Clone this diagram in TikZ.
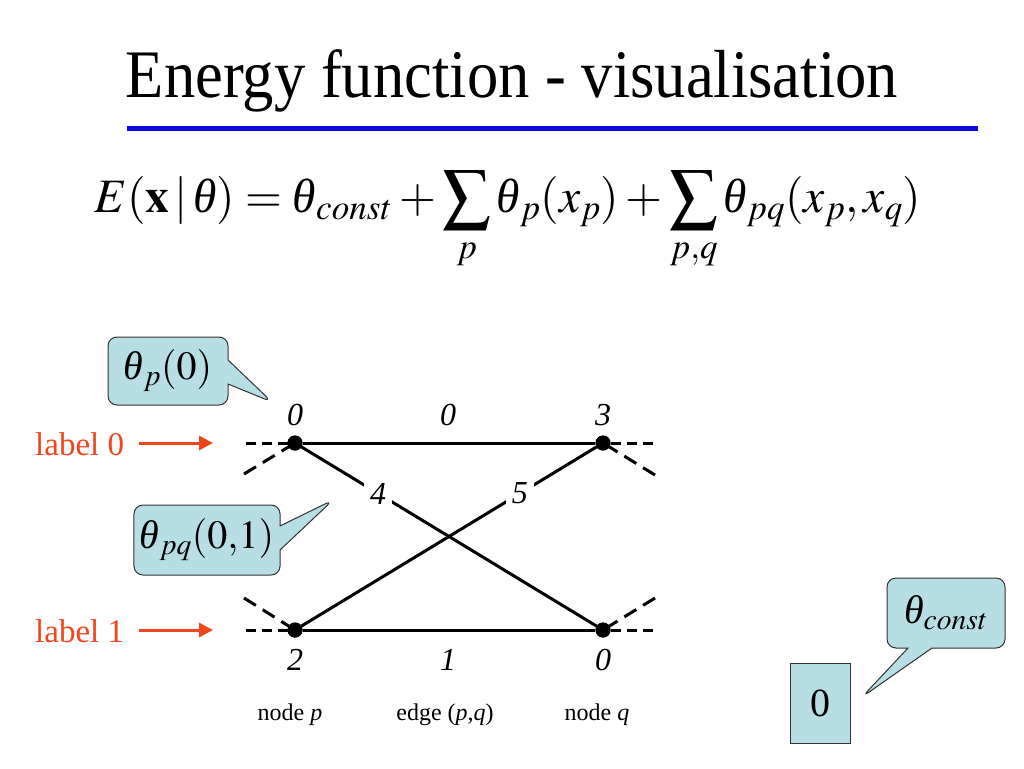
\documentclass[tikz,border=0pt]{standalone}
\usepackage{mathptmx}
\usepackage{fontspec}
\setmainfont{Liberation Serif}
\usetikzlibrary{shapes}
\usetikzlibrary{shapes.callouts}
\usetikzlibrary{positioning}
\usetikzlibrary{arrows.meta}
\definecolor{bubble}{RGB}{183,222,229}
\definecolor{labelred}{RGB}{240,70,30}
\definecolor{rulerblue}{RGB}{10,10,220}
\tikzset{
    dot/.style = {circle, fill=black, inner sep=0pt, minimum size=15pt},
    edgen/.style = {line width=3pt},
    edged/.style = {line width=3pt, dash pattern=on 10pt off 6pt},
    edgedd/.style = {line width=3pt, dash pattern=on 14pt off 8pt},
    weight/.style = {font=\fontsize{32}{36}\selectfont\itshape, inner sep=3pt},
    cross/.style = {weight, fill=white, inner sep=6pt},
    caption/.style = {font=\fontsize{24}{28}\selectfont, anchor=base},
    labeltxt/.style = {font=\fontsize{33}{38}\selectfont, text=labelred, anchor=base west, inner sep=0pt},
    edger/.style = {-{Triangle[length=14pt,width=14pt]}, line width=3pt, labelred},
    bubblebox/.style = {rectangle callout, rounded corners=9pt, draw=black!80, line width=1pt,
                        fill=bubble, inner sep=6pt, callout pointer width=24pt,
                        font=\fontsize{40}{44}\selectfont}
}
\newcommand{\Th}{\mbox{\itshape θ}}

\begin{document}
\begin{tikzpicture}[x=1pt,y=-1pt]
\useasboundingbox (0,0) rectangle (1024,768);
% title and formula
\node[anchor=base, font=\fontsize{68}{72}\selectfont] (title) at (512,97) {\scalebox{0.92}[1]{Energy function - visualisation}};
\draw[rulerblue, line width=5pt] (127,128) -- (978,128);
\node[anchor=base, font=\fontsize{48}{56}\selectfont] (energy) at (508,212)
  {\scalebox{0.99}[1]{$E(\mathbf{x}\,|\,\Th)=\Th_{const}+\displaystyle\sum_{p}\Th_{p}(x_{p})+\sum_{p,q}\Th_{pq}(x_{p},x_{q})$}};
%
\node[dot] at (295,443) (p0) {};
\node[dot] at (603,443) (q0) {};
\node[dot] at (295,630) (p1) {};
\node[dot] at (603,630) (q1) {};
\coordinate (pl0) at (246,443); \coordinate (pd0) at (244,474);
\coordinate (qr0) at (653,443); \coordinate (qd0) at (655,475);
\coordinate (pl1) at (246,630); \coordinate (pd1) at (244,598);
\coordinate (qr1) at (653,630); \coordinate (qd1) at (655,598);
%
\draw[edged] (pl0) -- (p0.center);
\draw[edgedd] (pd0) -- (p0.center);
\draw[edged] (qr0) -- (q0.center);
\draw[edgedd] (qd0) -- (q0.center);
\draw[edged] (pl1) -- (p1.center);
\draw[edgedd] (pd1) -- (p1.center);
\draw[edged] (qr1) -- (q1.center);
\draw[edgedd] (qd1) -- (q1.center);
\draw[edgen] (p0) -- (q0);
\draw[edgen] (p1) -- (q1);
\draw[edgen] (p0.center) -- (q1.center) node[cross, pos=0.27] (w01) {4};
\draw[edgen] (p1.center) -- (q0.center) node[cross, pos=0.73] (w10) {5};
\node[dot] at (p0) {};
\node[dot] at (q0) {};
\node[dot] at (p1) {};
\node[dot] at (q1) {};
%
\node[weight, anchor=base] at (295,425) (u00) {0};
\node[weight, anchor=base] at (448,425) (e00) {0};
\node[weight, anchor=base] at (603,425) (u10) {3};
\node[weight, anchor=base] at (295,670) (u01) {2};
\node[weight, anchor=base] at (448,670) (e11) {1};
\node[weight, anchor=base] at (603,670) (u11) {0};
%
\node[caption] at (290,720) (cp) {node \textit{p}};
\node[caption] at (445,720) (ce) {edge (\textit{p},\textit{q})};
\node[caption] at (597,720) (cq) {node \textit{q}};
%
\node[labeltxt] at (35,455) (lab0) {label 0};
\node[labeltxt] at (35,642) (lab1) {label 1};
\coordinate (a0) at (213,443);
\coordinate (a1) at (213,630);
\draw[edger] (lab0.east |- a0) ++(15,0) -- (a0);
\draw[edger] (lab1.east |- a1) ++(15,0) -- (a1);
%
\coordinate (tipu) at (272,402);
\coordinate (tipe) at (333,500);
\coordinate (tipc) at (862,697);
\node[bubblebox, callout absolute pointer=(tipu), minimum width=120pt, minimum height=68pt] at (168,371) (bu) {$\Th_{p}(0)$};
\node[bubblebox, callout absolute pointer=(tipe), minimum width=140pt, minimum height=70pt] at (207,540) (be) {$\Th_{pq}(0{,}1)$};
\node[bubblebox, callout absolute pointer=(tipc), minimum width=118pt, minimum height=70pt] at (946,613) (bc) {$\Th_{const}$};
\node[draw=black!80, line width=1pt, fill=bubble, minimum width=60pt, minimum height=80pt,
      font=\fontsize{40}{44}\selectfont] at (820,703) (zero) {0};
\end{tikzpicture}
\end{document}
